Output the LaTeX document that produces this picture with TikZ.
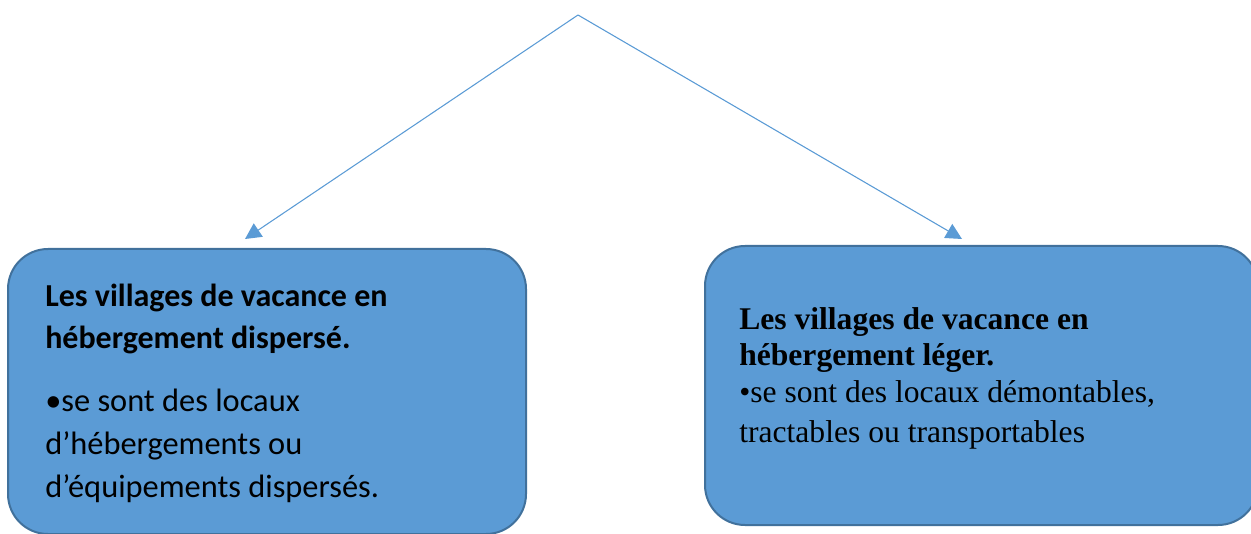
\documentclass[tikz,border=0pt]{standalone}
\usepackage{fontspec}
\setmainfont{Carlito}
\newfontfamily\calfont{Carlito}
\newfontfamily\timesfont{Liberation Serif}
\usetikzlibrary{arrows.meta}
\definecolor{boxfill}{HTML}{5B9BD5}
\definecolor{boxline}{HTML}{41719C}
\begin{document}
\begin{tikzpicture}[x=0.75pt,y=-0.75pt,
  box/.style={draw=boxline, fill=boxfill, line width=1.5pt, rounded corners=30pt, inner sep=0pt},
  conn/.style={draw=boxfill, line width=0.8pt, -{Triangle[length=12pt,width=12pt]}},
  txt/.style={anchor=base west, inner sep=0pt, text=black},
  ltitle/.style={txt, font=\calfont\bfseries\fontsize{24}{28}\selectfont},
  lbody/.style={txt, font=\calfont\fontsize{24.3}{28}\selectfont},
  rtitle/.style={txt, font=\timesfont\bfseries\fontsize{23.7}{28}\selectfont},
  rbody/.style={txt, font=\timesfont\fontsize{23.7}{28}\selectfont}]
\useasboundingbox (0,0) rectangle (1251,534);
\node[box, minimum width=518*0.75pt, minimum height=285*0.75pt] (L) at (267,391.5) {};
\node[box, minimum width=553*0.75pt, minimum height=279*0.75pt] (R) at (981.5,385.5) {};
\coordinate (apex) at (578,15);
\coordinate (lend) at (245,239);
\coordinate (rend) at (962,239);
\draw[conn] (apex) -- (lend);
\draw[conn] (apex) -- (rend);
\node[ltitle] (LT1) at (45,306) {Les villages de vacance en};
\node[ltitle] (LT2) at (45,348) {hébergement dispersé.};
\node[lbody] (LB1) at (45,411) {•se sont des locaux};
\node[lbody] (LB2) at (45,454) {d’hébergements ou};
\node[lbody] (LB3) at (45,497) {d’équipements dispersés.};
\node[rtitle] (RT1) at (739,329) {Les villages de vacance en};
\node[rtitle] (RT2) at (739,365) {hébergement léger.};
\node[rbody] (RB1) at (739,402) {•se sont des locaux démontables,};
\node[rbody] (RB2) at (739,442) {tractables ou transportables};
\end{tikzpicture}
\end{document}
